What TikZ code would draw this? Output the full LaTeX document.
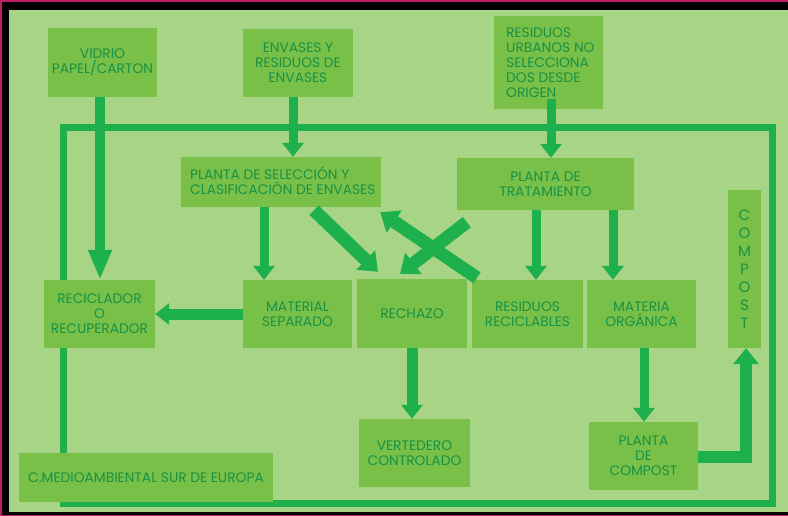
\documentclass[tikz,border=0pt]{standalone}
\usepackage{fontspec}
\setmainfont{Poppins}
\usetikzlibrary{arrows.meta}
\definecolor{bgg}{RGB}{168,212,134}
\definecolor{boxg}{RGB}{120,192,72}
\definecolor{lineg}{RGB}{30,176,76}
\definecolor{txtg}{RGB}{24,146,70}
\definecolor{frm}{RGB}{190,30,100}
\begin{document}
\begin{tikzpicture}[x=1pt,y=-1pt,
  box/.style={fill=boxg, draw=none, inner sep=0pt, text=txtg, align=center,
    font=\fontsize{13.8}{15}\selectfont},
  txt/.style={inner sep=0pt, text=txtg, align=left, font=\fontsize{13.8}{15}\selectfont},
  arr/.style={draw=lineg, line width=9pt, -{Triangle[width=21pt,length=14pt]}},
  longarr/.style={draw=lineg, line width=10pt, -{Triangle[width=22pt,length=30pt]}},
  diag/.style={draw=lineg, line width=13pt, -{Triangle[width=26pt,length=17pt]}},
  elbow/.style={draw=lineg, line width=12.5pt, line join=miter, -{Triangle[width=25pt,length=16pt]}},
  loopline/.style={draw=lineg, line width=7pt, line join=miter}]
\useasboundingbox (0,0) rectangle (788,516);
\fill[frm] (0,0) rectangle (788,516);
\fill[black] (2,2) rectangle (788,515);
\fill[bgg] (9,10) rectangle (788,512);
% big loop
\coordinate (lpa) at (63,128);
\coordinate (lpb) at (772,503);
\draw[loopline] (lpa) rectangle (lpb);
% boxes
\node[box, minimum width=109pt, minimum height=69pt] (vid) at (102.5,62.5) {VIDRIO\\PAPEL/CARTON};
\node[box, minimum width=110pt, minimum height=68pt] (env) at (298,63) {ENVASES Y\\RESIDUOS DE\\ENVASES};
\node[box, minimum width=109pt, minimum height=93pt] (rsu) at (548.5,62.5) {};
\node[txt, anchor=west] (rsut) at (506,62.5) {RESIDUOS\\URBANOS NO\\SELECCIONA\\DOS DESDE\\ORIGEN};
\node[box, minimum width=200pt, minimum height=50pt] (psel) at (281,182) {};
\node[txt, anchor=west] (pselt) at (190,181) {PLANTA DE SELECCIÓN Y\\CLASIFICACIÓN DE ENVASES};
\node[box, minimum width=177pt, minimum height=52pt] (ptra) at (545.5,184) {PLANTA DE\\TRATAMIENTO};
\node[box, minimum width=33pt, minimum height=158pt, font=\fontsize{15}{18}\selectfont] (comp) at (744.5,269) {C\\O\\M\\P\\O\\S\\T};
\node[box, minimum width=111pt, minimum height=68pt] (rec) at (99.5,314) {RECICLADOR\\O\\RECUPERADOR};
\node[box, minimum width=109pt, minimum height=68pt] (mat) at (297.5,314) {MATERIAL\\SEPARADO};
\node[box, minimum width=110pt, minimum height=69pt] (rech) at (412,313.5) {RECHAZO};
\node[box, minimum width=111pt, minimum height=68pt] (rres) at (527.5,314) {RESIDUOS\\RECICLABLES};
\node[box, minimum width=109pt, minimum height=68pt] (mor) at (641.5,314) {MATERIA\\ORGÁNICA};
\node[box, minimum width=111pt, minimum height=68pt] (vert) at (414.5,453) {VERTEDERO\\CONTROLADO};
\node[box, minimum width=109pt, minimum height=68pt] (pcom) at (643.5,456) {PLANTA\\DE\\COMPOST};
\node[box, minimum width=254pt, minimum height=49pt] (cma) at (146,477.5) {C.MEDIOAMBIENTAL SUR DE EUROPA};
% arrows
\draw[longarr] ([xshift=-2.5pt]vid.south) -- ([xshift=-2.5pt]vid.south |- rec.north);
\draw[arr] ([xshift=-5pt]env.south) -- ([xshift=-5pt]env.south |- psel.north);
\draw[arr] ([xshift=2.5pt,yshift=10pt]rsu.south) -- ([xshift=2.5pt]rsu.south |- ptra.north);
\draw[arr] ([xshift=-33.5pt]mat.north |- psel.south) -- ([xshift=-33.5pt]mat.north);
\draw[diag] ([xshift=33pt,yshift=-3pt]psel.south) -- ([xshift=-34pt,yshift=7pt]rech.north);
\draw[diag] ([xshift=-50.5pt,yshift=2pt]rres.north) -- ([xshift=-1pt,yshift=-5pt]psel.south east);
\draw[diag] ([xshift=10pt,yshift=-12pt]ptra.south west) -- ([xshift=-12pt,yshift=5pt]rech.north);
\draw[arr] ([xshift=8.5pt]rres.north |- ptra.south) -- ([xshift=8.5pt]rres.north);
\draw[arr] ([xshift=-28.5pt]mor.north |- ptra.south) -- ([xshift=-28.5pt]mor.north);
\draw[arr, line width=11pt] (mat.west) -- (rec.east);
\draw[arr, line width=11pt] (rech.south) -- (rech.south |- vert.north);
\draw[arr] ([xshift=2.5pt]mor.south) -- ([xshift=2.5pt]mor.south |- pcom.north);
\draw[elbow] ([yshift=-1pt]pcom.east) -| ([xshift=1.5pt]comp.south);
\end{tikzpicture}
\end{document}
